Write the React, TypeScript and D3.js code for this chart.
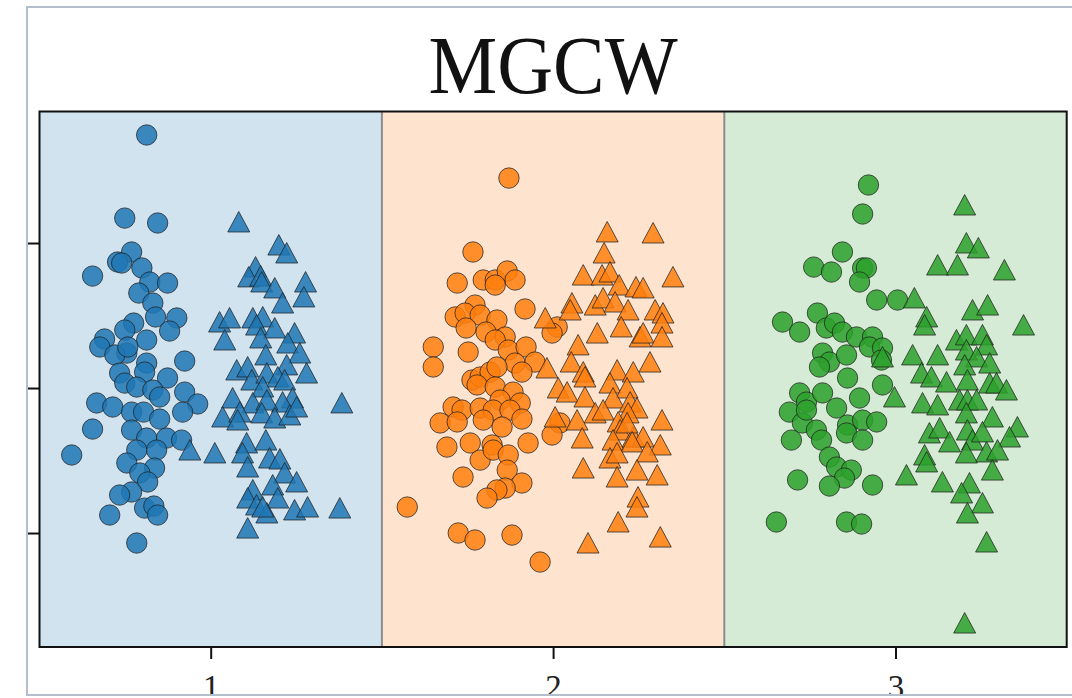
import * as d3 from "d3";
import { useEffect, useRef } from "react";

// categories along x
const groups = [1, 2, 3];
const groupColors = ["#1f77b4", "#ff7f0e", "#2ca02c"];
const bandColors = ["#d2e3f0", "#fee3cf", "#d5ebd5"];
const yTicks = [-1, 0, 1];
const title = "MGCW";

// [x offset from group centre, value]
const blueCircles = [
  [-0.187, 1.745], [-0.251, 1.172], [-0.155, 1.138], [-0.231, 0.938], [-0.272, 0.869],
  [-0.26, 0.862], [-0.345, 0.772], [-0.201, 0.828], [-0.178, 0.731], [-0.126, 0.724],
  [-0.21, 0.655], [-0.169, 0.586], [-0.161, 0.49], [-0.099, 0.483], [-0.12, 0.393],
  [-0.225, 0.448], [-0.251, 0.4], [-0.31, 0.338], [-0.324, 0.283], [-0.187, 0.331],
  [-0.245, 0.241], [-0.28, 0.228], [-0.242, 0.283], [-0.076, 0.186], [-0.187, 0.172],
  [-0.193, 0.11], [-0.266, 0.103], [-0.251, 0.034], [-0.216, 0.007], [-0.126, 0.069],
  [-0.169, -0.014], [-0.149, -0.062], [-0.076, -0.028], [-0.038, -0.11], [-0.082, -0.166],
  [-0.333, -0.103], [-0.286, -0.131], [-0.231, -0.166], [-0.196, -0.166], [-0.149, -0.214],
  [-0.345, -0.283], [-0.231, -0.29], [-0.187, -0.345], [-0.129, -0.345], [-0.085, -0.359],
  [-0.158, -0.428], [-0.216, -0.428], [-0.245, -0.517], [-0.164, -0.552], [-0.207, -0.586],
  [-0.184, -0.648], [-0.406, -0.462], [-0.231, -0.717], [-0.266, -0.738], [-0.295, -0.876],
  [-0.193, -0.828], [-0.166, -0.814], [-0.155, -0.876], [-0.216, -1.069],
];
const blueTriangles = [
  [0.082, 1.145], [0.199, 0.986], [0.222, 0.931], [0.131, 0.834], [0.111, 0.766],
  [0.146, 0.772], [0.149, 0.731], [0.277, 0.731], [0.187, 0.69], [0.272, 0.628],
  [0.21, 0.586], [0.026, 0.455], [0.055, 0.483], [0.123, 0.483], [0.152, 0.49],
  [0.134, 0.434], [0.187, 0.414], [0.245, 0.379], [0.041, 0.331], [0.146, 0.345],
  [0.225, 0.31], [0.26, 0.241], [0.161, 0.228], [0.076, 0.124], [0.108, 0.145],
  [0.222, 0.159], [0.28, 0.103], [0.12, 0.055], [0.164, 0.103], [0.196, 0.076],
  [0.216, 0.055], [0.152, 0.007], [0.064, -0.069], [0.239, -0.069], [0.21, -0.097],
  [0.123, -0.103], [0.164, -0.083], [0.383, -0.103], [0.035, -0.2], [0.085, -0.166],
  [0.079, -0.221], [0.149, -0.172], [0.187, -0.207], [0.231, -0.186], [0.251, -0.131],
  [-0.061, -0.428], [0.012, -0.448], [0.105, -0.379], [0.161, -0.359], [0.093, -0.448],
  [0.108, -0.545], [0.172, -0.483], [0.202, -0.49], [0.216, -0.586], [0.251, -0.648],
  [0.181, -0.669], [0.196, -0.759], [0.123, -0.703], [0.108, -0.759], [0.134, -0.807],
  [0.164, -0.862], [0.152, -0.821], [0.245, -0.841], [0.283, -0.821], [0.377, -0.828],
  [0.108, -0.966],
];
const orangeCircles = [
  [-0.129, 1.448], [-0.234, 0.938], [-0.28, 0.724], [-0.204, 0.745], [-0.169, 0.745],
  [-0.134, 0.807], [-0.111, 0.745], [-0.169, 0.71], [-0.228, 0.572], [-0.286, 0.49],
  [-0.257, 0.517], [-0.213, 0.503], [-0.254, 0.414], [-0.164, 0.469], [-0.082, 0.545],
  [-0.196, 0.386], [-0.14, 0.352], [-0.169, 0.331], [0.012, 0.421], [-0.003, 0.379],
  [-0.35, 0.283], [-0.35, 0.145], [-0.248, 0.248], [-0.131, 0.262], [-0.079, 0.283],
  [-0.111, 0.172], [-0.053, 0.179], [-0.091, 0.11], [-0.237, 0.055], [-0.213, 0.076],
  [-0.184, 0.11], [-0.164, 0.145], [-0.222, 0.021], [-0.169, 0.007], [-0.117, -0.028],
  [-0.155, -0.083], [-0.096, -0.103], [-0.292, -0.131], [-0.266, -0.152], [-0.213, -0.138],
  [-0.175, -0.152], [-0.126, -0.152], [-0.33, -0.241], [-0.28, -0.234], [-0.204, -0.221],
  [-0.149, -0.269], [-0.091, -0.214], [0.02, -0.241], [-0.003, -0.324], [-0.31, -0.407],
  [-0.242, -0.379], [-0.178, -0.393], [-0.073, -0.379], [-0.213, -0.497], [-0.175, -0.428],
  [-0.131, -0.462], [-0.134, -0.566], [-0.263, -0.614], [-0.091, -0.655], [-0.14, -0.69],
  [-0.164, -0.703], [-0.193, -0.759], [-0.426, -0.821], [-0.277, -1.0], [-0.228, -1.048],
  [-0.12, -1.014], [-0.038, -1.2],
];
const orangeTriangles = [
  [0.158, 1.076], [0.292, 1.069], [0.149, 0.931], [0.088, 0.779], [0.143, 0.779],
  [0.166, 0.8], [0.35, 0.766], [0.193, 0.71], [0.242, 0.697], [0.263, 0.69],
  [0.055, 0.586], [0.05, 0.538], [0.123, 0.572], [0.146, 0.621], [0.181, 0.593],
  [0.219, 0.538], [0.298, 0.538], [0.321, 0.517], [-0.023, 0.483], [0.199, 0.421],
  [0.129, 0.379], [0.318, 0.448], [0.254, 0.352], [0.263, 0.379], [0.318, 0.352],
  [0.073, 0.297], [0.283, 0.179], [-0.018, 0.138], [0.053, 0.179], [0.088, 0.11],
  [0.093, 0.076], [0.187, 0.124], [0.234, 0.11], [0.166, 0.034], [0.216, 0.0],
  [0.015, 0.0], [0.041, -0.028], [0.093, -0.062], [0.175, -0.069], [0.123, -0.172],
  [0.146, -0.152], [0.225, -0.097], [0.245, -0.138], [0.219, -0.172], [0.318, -0.221],
  [0.006, -0.2], [0.07, -0.221], [0.19, -0.234], [0.196, -0.29], [0.085, -0.345],
  [0.175, -0.359], [0.234, -0.338], [0.263, -0.338], [0.313, -0.393], [0.216, -0.241],
  [0.231, -0.372], [0.275, -0.441], [0.166, -0.483], [0.187, -0.448], [0.088, -0.552],
  [0.187, -0.614], [0.245, -0.566], [0.304, -0.6], [0.248, -0.752], [0.245, -0.821],
  [0.19, -0.924], [0.102, -1.069], [0.313, -1.028],
];
const greenCircles = [
  [-0.079, 1.4], [-0.096, 1.2], [-0.155, 0.938], [-0.239, 0.834], [-0.187, 0.8],
  [-0.096, 0.828], [-0.085, 0.828], [-0.105, 0.731], [-0.055, 0.607], [0.006, 0.607],
  [-0.33, 0.455], [-0.28, 0.386], [-0.228, 0.517], [-0.202, 0.414], [-0.178, 0.448],
  [-0.155, 0.386], [-0.114, 0.352], [-0.067, 0.352], [-0.076, 0.283], [-0.038, 0.276],
  [-0.213, 0.241], [-0.193, 0.179], [-0.143, 0.228], [-0.222, 0.145], [-0.14, 0.069],
  [-0.041, 0.193], [-0.038, 0.021], [-0.28, -0.034], [-0.26, -0.097], [-0.213, -0.034],
  [-0.172, -0.138], [-0.105, -0.069], [-0.31, -0.166], [-0.272, -0.241], [-0.231, -0.29],
  [-0.14, -0.255], [-0.096, -0.221], [-0.055, -0.234], [-0.304, -0.359], [-0.216, -0.359],
  [-0.143, -0.31], [-0.096, -0.359], [-0.193, -0.476], [-0.172, -0.545], [-0.129, -0.566],
  [-0.149, -0.621], [-0.193, -0.676], [-0.286, -0.634], [-0.067, -0.669], [-0.348, -0.924],
  [-0.143, -0.924], [-0.099, -0.938], [-0.26, -0.152],
];
const greenTriangles = [
  [0.202, 1.262], [0.207, 1.0], [0.242, 0.966], [0.123, 0.848], [0.181, 0.848],
  [0.318, 0.814], [0.055, 0.621], [0.091, 0.49], [0.085, 0.434], [0.225, 0.538],
  [0.269, 0.572], [0.374, 0.434], [0.178, 0.331], [0.207, 0.366], [0.254, 0.366],
  [0.266, 0.297], [-0.038, 0.214], [0.05, 0.228], [0.123, 0.228], [0.207, 0.262],
  [0.237, 0.214], [0.202, 0.159], [0.275, 0.172], [0.076, 0.103], [0.105, 0.076],
  [0.149, 0.041], [0.21, 0.055], [0.275, 0.034], [0.295, 0.034], [0.324, -0.014],
  [-0.003, -0.062], [0.079, -0.103], [0.123, -0.117], [0.187, -0.083], [0.21, -0.083],
  [0.237, -0.083], [0.207, -0.172], [0.283, -0.2], [0.356, -0.269], [0.333, -0.338],
  [0.099, -0.31], [0.129, -0.276], [0.158, -0.372], [0.21, -0.29], [0.225, -0.359],
  [0.254, -0.303], [0.266, -0.441], [0.298, -0.428], [0.207, -0.448], [0.085, -0.462],
  [0.091, -0.51], [0.283, -0.566], [0.032, -0.6], [0.137, -0.648], [0.216, -0.655],
  [0.193, -0.724], [0.254, -0.793], [0.21, -0.862], [0.266, -1.062], [0.202, -1.621],
];

const circleSets = [blueCircles, orangeCircles, greenCircles];
const triangleSets = [blueTriangles, orangeTriangles, greenTriangles];

function App() {
  const w = 1072;
  const h = 698;
  const svgRef = useRef(null);

  useEffect(() => {
    const svg = d3.select(svgRef.current);
    svg.selectAll("*").remove();

    const left = 39.5;
    const right = 1066.7;
    const top = 111.5;
    const bottom = 647;

    const xScale = d3.scaleLinear().domain([0.5, 3.5]).range([left, right]);
    const yScale = d3.scaleLinear().domain([-1.786, 1.907]).range([bottom, top]);

    svg
      .append("clipPath")
      .attr("id", "frame-clip")
      .append("rect")
      .attr("x", 27)
      .attr("y", 7)
      .attr("width", w - 27)
      .attr("height", 688);

    const g = svg.append("g").attr("clip-path", "url(#frame-clip)");

    g.append("rect")
      .attr("x", 27)
      .attr("y", 7)
      .attr("width", w - 27)
      .attr("height", 688)
      .attr("fill", "white");

    // coloured bands, one per group
    g.selectAll(".band")
      .data(groups)
      .join("rect")
      .attr("class", "band")
      .attr("x", (d) => xScale(d - 0.5))
      .attr("y", top)
      .attr("width", (d) => xScale(d + 0.5) - xScale(d - 0.5))
      .attr("height", bottom - top)
      .attr("fill", (d, i) => bandColors[i]);

    g.selectAll(".sep")
      .data(groups.slice(1))
      .join("line")
      .attr("class", "sep")
      .attr("x1", (d) => xScale(d - 0.5))
      .attr("x2", (d) => xScale(d - 0.5))
      .attr("y1", top)
      .attr("y2", bottom)
      .attr("stroke", "#8c8c8c")
      .attr("stroke-width", 2);

    const tri = "M0,-10.5L11,10L-11,10Z";

    groups.forEach((grp, i) => {
      g.selectAll(".c" + i)
        .data(circleSets[i])
        .join("circle")
        .attr("class", "c" + i)
        .attr("cx", (d) => xScale(grp + d[0]))
        .attr("cy", (d) => yScale(d[1]))
        .attr("r", 10.2)
        .attr("fill", groupColors[i])
        .attr("fill-opacity", 0.85)
        .attr("stroke", "#222")
        .attr("stroke-opacity", 0.75)
        .attr("stroke-width", 1);

      g.selectAll(".t" + i)
        .data(triangleSets[i])
        .join("path")
        .attr("class", "t" + i)
        .attr("d", tri)
        .attr("transform", (d) => `translate(${xScale(grp + d[0])},${yScale(d[1])})`)
        .attr("fill", groupColors[i])
        .attr("fill-opacity", 0.85)
        .attr("stroke", "#222")
        .attr("stroke-opacity", 0.75)
        .attr("stroke-width", 1);
    });

    // axes
    const xAxis = d3
      .axisBottom(xScale)
      .tickValues(groups)
      .tickSize(12)
      .tickPadding(16)
      .tickFormat(d3.format("d"));
    const xg = g.append("g").attr("transform", `translate(0,${bottom})`).call(xAxis);
    xg.select(".domain").remove();
    xg.selectAll(".tick line").attr("stroke", "#111").attr("stroke-width", 2);
    xg.selectAll(".tick text")
      .attr("font-family", "'Liberation Serif', serif")
      .attr("font-size", 33)
      .attr("fill", "#222")
      .attr("dy", "0.71em");

    const yAxis = d3
      .axisLeft(yScale)
      .tickValues(yTicks)
      .tickSize(12)
      .tickFormat(() => "");
    const yg = g.append("g").attr("transform", `translate(${left},0)`).call(yAxis);
    yg.select(".domain").remove();
    yg.selectAll(".tick line").attr("stroke", "#111").attr("stroke-width", 2);

    g.append("rect")
      .attr("x", left)
      .attr("y", top)
      .attr("width", right - left)
      .attr("height", bottom - top)
      .attr("fill", "none")
      .attr("stroke", "#111")
      .attr("stroke-width", 2);

    g.append("text")
      .attr("x", (left + right) / 2)
      .attr("y", 93)
      .attr("text-anchor", "middle")
      .attr("font-family", "'Liberation Serif', serif")
      .attr("font-size", 82)
      .attr("textLength", 249)
      .attr("lengthAdjust", "spacingAndGlyphs")
      .attr("fill", "#111")
      .text(title);

    // outer frame
    svg
      .append("path")
      .attr("d", `M${w},7H27V695H${w}`)
      .attr("fill", "none")
      .attr("stroke", "#b3bfcc")
      .attr("stroke-width", 2);
  }, []);

  return (
    <svg
      ref={svgRef}
      width={w}
      height={h}
      style={{ position: "absolute", left: 0, top: 0, background: "white" }}
    />
  );
}

export default App;
